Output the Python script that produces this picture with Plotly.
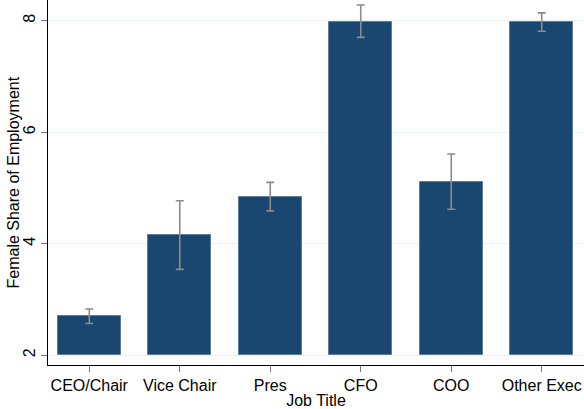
import plotly.graph_objects as go

# Female share of employment by executive job title, with confidence intervals
job_titles = ["CEO/Chair", "Vice Chair", "Pres", "CFO", "COO", "Other Exec"]
share = [2.70, 4.15, 4.84, 7.98, 5.11, 7.98]
ci_upper = [2.83, 4.77, 5.10, 8.28, 5.61, 8.14]
ci_lower = [2.57, 3.54, 4.59, 7.70, 4.62, 7.81]
y_ticks = [2, 4, 6, 8]

baseline = 2
positions = list(range(len(job_titles)))

fig = go.Figure()
fig.add_trace(go.Bar(
    x=positions,
    y=[v - baseline for v in share],
    base=baseline,
    width=0.7,
    marker=dict(color="#1a476f", line=dict(color="#5d7d9a", width=1)),
    error_y=dict(
        type="data",
        symmetric=False,
        array=[u - v for u, v in zip(ci_upper, share)],
        arrayminus=[v - l for v, l in zip(share, ci_lower)],
        color="#8c8c8c",
        thickness=1.6,
        width=4,
    ),
    hoverinfo="skip",
))

font_family = "Arial, Liberation Sans, sans-serif"
margin_left = 48
plot_width = 584 - margin_left
fig.update_layout(
    width=584,
    height=409,
    margin=dict(l=margin_left, r=0, t=0, b=44),
    paper_bgcolor="white",
    plot_bgcolor="white",
    showlegend=False,
    font=dict(family=font_family, size=16, color="black"),
    bargap=0,
)
# y-axis title placed as a rotated annotation for exact positioning
fig.add_annotation(
    text="Female Share of Employment",
    xref="paper", yref="paper",
    x=(13 - margin_left) / plot_width, y=0.5,
    textangle=-90,
    showarrow=False,
    xanchor="center", yanchor="middle",
    font=dict(size=16),
)
fig.update_xaxes(
    range=[-0.456, 5.467],
    tickmode="array",
    tickvals=positions,
    ticktext=job_titles,
    ticks="outside",
    ticklen=6,
    tickcolor="#777777",
    showline=True,
    linecolor="black",
    linewidth=1,
    showgrid=False,
    zeroline=False,
    title=dict(text="Job Title", standoff=0, font=dict(size=16)),
    tickfont=dict(size=16),
)
fig.update_yaxes(
    range=[1.826, 8.371],
    tickmode="array",
    tickvals=y_ticks,
    ticktext=[str(t) for t in y_ticks],
    tickangle=-90,
    ticks="outside",
    ticklen=6,
    tickcolor="#777777",
    showline=True,
    linecolor="black",
    linewidth=1,
    showgrid=True,
    gridcolor="#eaf2f3",
    gridwidth=1,
    zeroline=False,
    tickfont=dict(size=16),
)

fig.write_html("out.html")
